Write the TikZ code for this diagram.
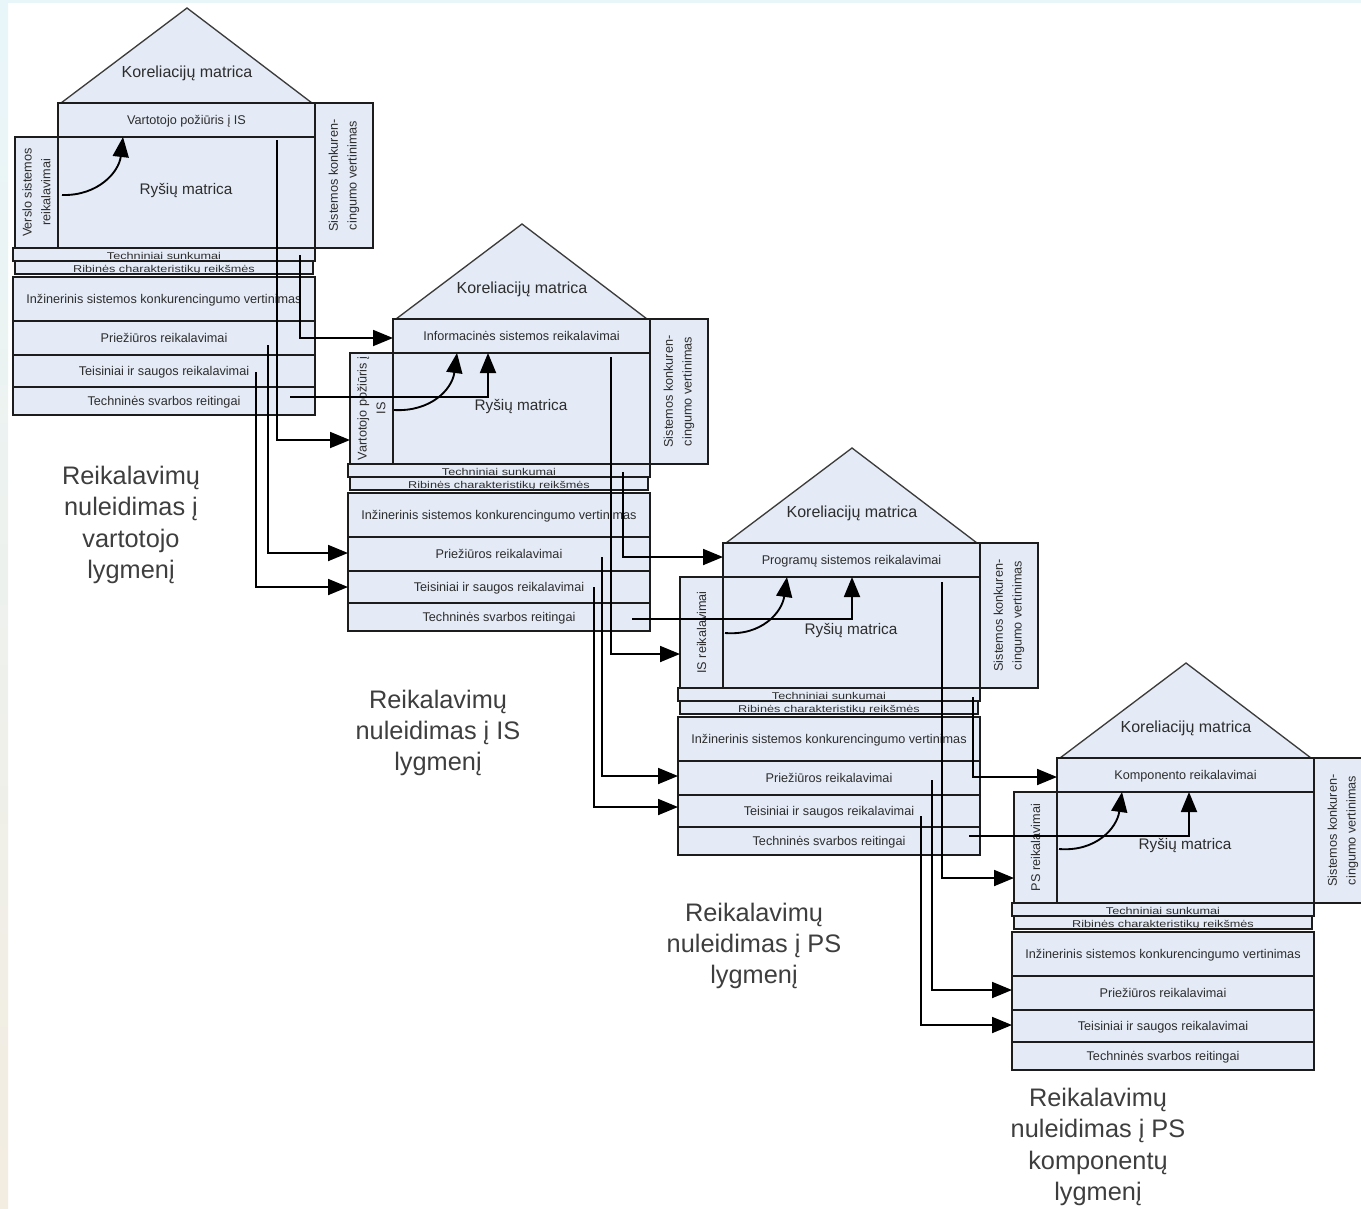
\documentclass[tikz,border=0pt]{standalone}
\usepackage{fontspec}
\usepackage{graphicx}
\setmainfont{Liberation Sans}
\usetikzlibrary{arrows.meta}

\definecolor{boxfill}{RGB}{228,235,246}
\definecolor{edge}{RGB}{28,28,28}
\definecolor{roofedge}{RGB}{60,60,60}
\definecolor{labeltext}{RGB}{45,45,45}
\definecolor{captiontext}{RGB}{62,62,62}
\definecolor{stripA}{RGB}{232,246,250}
\definecolor{stripB}{RGB}{243,236,224}

% vertically centred label that never enlarges its box
\newcommand\cl[1]{\raisebox{-0.36em}[0pt][0pt]{#1}}
% flattened text for the thin rows
\newcommand\squash[1]{\scalebox{1}[0.78]{#1}}

\tikzset{
  panel/.style={draw=edge, line width=1.3pt, fill=boxfill, inner sep=0pt,
    outer sep=0pt, anchor=north west, text=labeltext,
    font=\fontsize{9.5}{11}\selectfont},
  dims/.style 2 args={minimum width=#1*0.75pt, minimum height=#2*0.75pt},
  roof/.style={draw=roofedge, line width=1pt, fill=boxfill, line join=miter},
  plain/.style={inner sep=0pt, text=labeltext},
  sidetext/.style={rotate=90, align=center, inner sep=0pt, text=labeltext,
    font=\fontsize{9.5}{14}\selectfont},
  caption/.style={align=center, inner sep=0pt, text=captiontext,
    font=\fontsize{19}{23.5}\selectfont},
  wire/.style={draw=black, line width=1.4pt},
  flow/.style={wire, -{Triangle[length=15pt,width=12pt]}},
}

% one house of quality; #1 prefix, (#2,#3) top-left of the header row,
% #4 header label, #5 left column label
\newcommand\qfdhouse[5]{%
\begin{scope}[shift={(#2,#3)}]
  \filldraw[roof] (3,0) -- (129,-95) -- (254,0) -- cycle;
  \node[plain, font=\fontsize{12}{14}\selectfont] (#1corr) at (129,-30) {Koreliacijų matrica};
  \node[panel, dims={58}{145}] (#1comp) at (257,0) {};
  \node[sidetext] (#1compl) at (#1comp.center) {Sistemos konkuren-\\cingumo vertinimas};
  \node[panel, dims={43}{111}] (#1left) at (-43,34) {};
  \node[sidetext] (#1leftl) at (#1left.center) {#5};
  \node[panel, dims={257}{34}] (#1top) at (0,0) {\cl{#4}};
  \node[panel, dims={257}{111}] (#1rel) at (0,34) {};
  \node[plain, font=\fontsize{11.5}{13}\selectfont] (#1rell) at (128,88) {Ryšių matrica};
  \node[panel, dims={302}{13}] (#1tech) at (-45,145) {\cl{\squash{Techniniai sunkumai}}};
  \node[panel, dims={298}{12.5}] (#1lim) at (-43,158.5) {\cl{\squash{Ribinės charakteristikų reikšmės}}};
  \node[panel, dims={302}{44}] (#1eng) at (-45,174) {\cl{Inžinerinis sistemos konkurencingumo vertinimas}};
  \node[panel, dims={302}{34}] (#1care) at (-45,218) {\cl{Priežiūros reikalavimai}};
  \node[panel, dims={302}{32}] (#1legal) at (-45,252) {\cl{Teisiniai ir saugos reikalavimai}};
  \node[panel, dims={302}{28}] (#1rank) at (-45,284) {\cl{Techninės svarbos reitingai}};
\end{scope}}

\begin{document}
\begin{tikzpicture}[x=0.75pt,y=-0.75pt]
\useasboundingbox (0,0) rectangle (1361,1208);
\fill[white] (0,0) rectangle (1361,1208);
% slide edge decoration
\shade[top color=stripA, bottom color=stripB] (0,0) rectangle (8,1208);
\fill[stripA] (0,0) rectangle (1361,3);

% the four cascaded houses
\qfdhouse{h1}{58}{103}{Vartotojo požiūris į IS}{Verslo sistemos\\reikalavimai}
\qfdhouse{h2}{393}{319}{Informacinės sistemos reikalavimai}{Vartotojo požiūris į\\IS}
\qfdhouse{h3}{723}{543}{Programų sistemos reikalavimai}{IS reikalavimai}
\qfdhouse{h4}{1057}{758}{Komponento reikalavimai}{PS reikalavimai}

% level captions
\node[caption] (cap1) at (131,525) {Reikalavimų\\nuleidimas į\\vartotojo\\lygmenį};
\node[caption] (cap2) at (438,733) {Reikalavimų\\nuleidimas į IS\\lygmenį};
\node[caption] (cap3) at (754,946) {Reikalavimų\\nuleidimas į PS\\lygmenį};
\node[caption] (cap4) at (1098,1147) {Reikalavimų\\nuleidimas į PS\\komponentų\\lygmenį};

% ---- cascade from house 1 to house 2
\coordinate (s1a) at (277,140); \coordinate (k1a) at (277,440);
\draw[flow] (s1a) -- (k1a) -- (h2left.west |- k1a);
\coordinate (s1b) at (300,255); \coordinate (k1b) at (300,338);
\draw[flow] (s1b) -- (k1b) -- (h2top.west |- k1b);
\coordinate (s1c) at (268,345); \coordinate (k1c) at (268,553);
\draw[flow] (s1c) -- (k1c) -- (h2care.west |- k1c);
\coordinate (s1d) at (256,372); \coordinate (k1d) at (256,587);
\draw[flow] (s1d) -- (k1d) -- (h2legal.west |- k1d);
\coordinate (s1e) at (290,397); \coordinate (k1e) at (488,397);
\draw[flow] (s1e) -- (k1e) -- (k1e |- h2top.south);
\coordinate (s1f) at (62,195); \coordinate (t1f) at (123,0);
\draw[flow] (s1f) .. controls (98,196) and (119,172) .. (h1top.south -| t1f);

% ---- cascade from house 2 to house 3
\coordinate (s2a) at (611,357); \coordinate (k2a) at (611,654);
\draw[flow] (s2a) -- (k2a) -- (h3left.west |- k2a);
\coordinate (s2b) at (623,472); \coordinate (k2b) at (623,557);
\draw[flow] (s2b) -- (k2b) -- (h3top.west |- k2b);
\coordinate (s2c) at (602,557); \coordinate (k2c) at (602,776);
\draw[flow] (s2c) -- (k2c) -- (h3care.west |- k2c);
\coordinate (s2d) at (594,587); \coordinate (k2d) at (594,807);
\draw[flow] (s2d) -- (k2d) -- (h3legal.west |- k2d);
\coordinate (s2e) at (632,619); \coordinate (k2e) at (852,619);
\draw[flow] (s2e) -- (k2e) -- (k2e |- h3top.south);
\coordinate (s2f) at (394,410); \coordinate (t2f) at (457,0);
\draw[flow] (s2f) .. controls (430,412) and (452,390) .. (h2top.south -| t2f);

% ---- cascade from house 3 to house 4
\coordinate (s3a) at (942,582); \coordinate (k3a) at (942,878);
\draw[flow] (s3a) -- (k3a) -- (h4left.west |- k3a);
\coordinate (s3b) at (973,697); \coordinate (k3b) at (973,777);
\draw[flow] (s3b) -- (k3b) -- (h4top.west |- k3b);
\coordinate (s3c) at (932,780); \coordinate (k3c) at (932,990);
\draw[flow] (s3c) -- (k3c) -- (h4care.west |- k3c);
\coordinate (s3d) at (921,816); \coordinate (k3d) at (921,1025);
\draw[flow] (s3d) -- (k3d) -- (h4legal.west |- k3d);
\coordinate (s3e) at (969,836); \coordinate (k3e) at (1189,836);
\draw[flow] (s3e) -- (k3e) -- (k3e |- h4top.south);
\coordinate (s3f) at (725,633); \coordinate (t3f) at (787,0);
\draw[flow] (s3f) .. controls (762,636) and (782,612) .. (h3top.south -| t3f);

% ---- relation arrow inside house 4
\coordinate (s4f) at (1059,849); \coordinate (t4f) at (1122,0);
\draw[flow] (s4f) .. controls (1096,852) and (1117,828) .. (h4top.south -| t4f);
\end{tikzpicture}
\end{document}
